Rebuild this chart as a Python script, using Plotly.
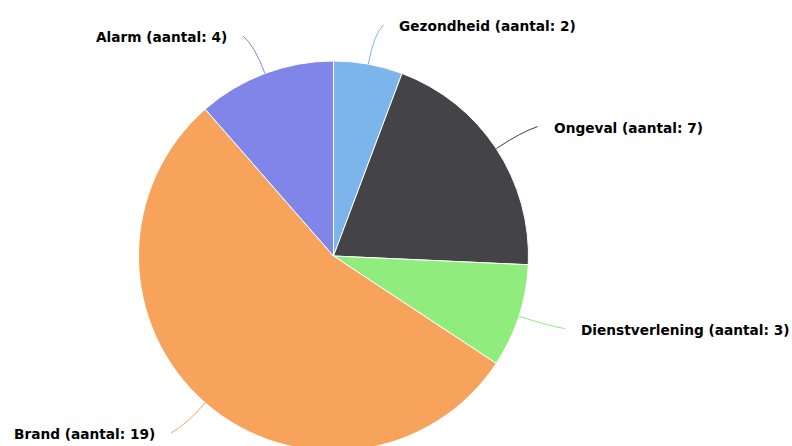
import math
import plotly.graph_objects as go

# ---- data ----
categories = ["Gezondheid", "Ongeval", "Dienstverlening", "Brand", "Alarm"]
counts = [2, 7, 3, 19, 4]
colors = ["#7cb5ec", "#434348", "#90ed7d", "#f7a35c", "#8085e9"]
label_template = "{name} (aantal: {n})"

# ---- layout geometry (pixels) ----
W, H = 792, 460
CX, CY, R = 333.5, 256.0, 195.0

fig = go.Figure()

# invisible helper trace so that pixel-based axes exist for connectors/labels
fig.add_trace(go.Scatter(x=[0], y=[0], mode="markers", marker=dict(opacity=0),
                         hoverinfo="skip", showlegend=False))

fig.add_trace(go.Pie(
    labels=categories,
    values=counts,
    sort=False,
    direction="clockwise",
    rotation=0,
    marker=dict(colors=colors, line=dict(color="#ffffff", width=1)),
    textinfo="none",
    hoverinfo="label+value",
    showlegend=False,
    domain=dict(x=[(CX - R) / W, (CX + R) / W],
                y=[1 - (CY + R) / H, 1 - (CY - R) / H]),
))

total = sum(counts)
cum = 0
shapes = []
annotations = []
for name, n, col in zip(categories, counts, colors):
    mid = (cum + n / 2) / total * 2 * math.pi
    cum += n
    s, c = math.sin(mid), math.cos(mid)
    ax, ay = CX + R * s, CY - R * c
    qx, qy = CX + (R + 30) * s, CY - (R + 30) * c
    bx, by = CX + (R + 40) * s, CY - (R + 40) * c
    side = 1 if s >= 0 else -1
    ex, ey = bx + side * 8, by
    shapes.append(dict(
        type="path", xref="x", yref="y",
        path=f"M {ax:.2f} {ay:.2f} Q {qx:.2f} {qy:.2f} {ex:.2f} {ey:.2f}",
        line=dict(color=col, width=1), layer="above",
    ))
    annotations.append(dict(
        x=ex + side * 14, y=ey + 1, xref="x", yref="y",
        text=label_template.format(name=name, n=n),
        showarrow=False,
        xanchor="left" if side > 0 else "right", yanchor="middle",
        font=dict(family="DejaVu Sans", size=13.7, color="#000000", weight="bold"),
    ))

fig.update_layout(
    width=W, height=H,
    margin=dict(l=0, r=0, t=0, b=0),
    paper_bgcolor="#ffffff", plot_bgcolor="#ffffff",
    xaxis=dict(range=[0, W], visible=False, fixedrange=True),
    yaxis=dict(range=[H, 0], visible=False, fixedrange=True),
    shapes=shapes,
    annotations=annotations,
    showlegend=False,
)

fig.write_html("out.html",
               config={"displayModeBar": False},
               post_script="document.body.style.margin='0';document.body.style.overflow='hidden';")
